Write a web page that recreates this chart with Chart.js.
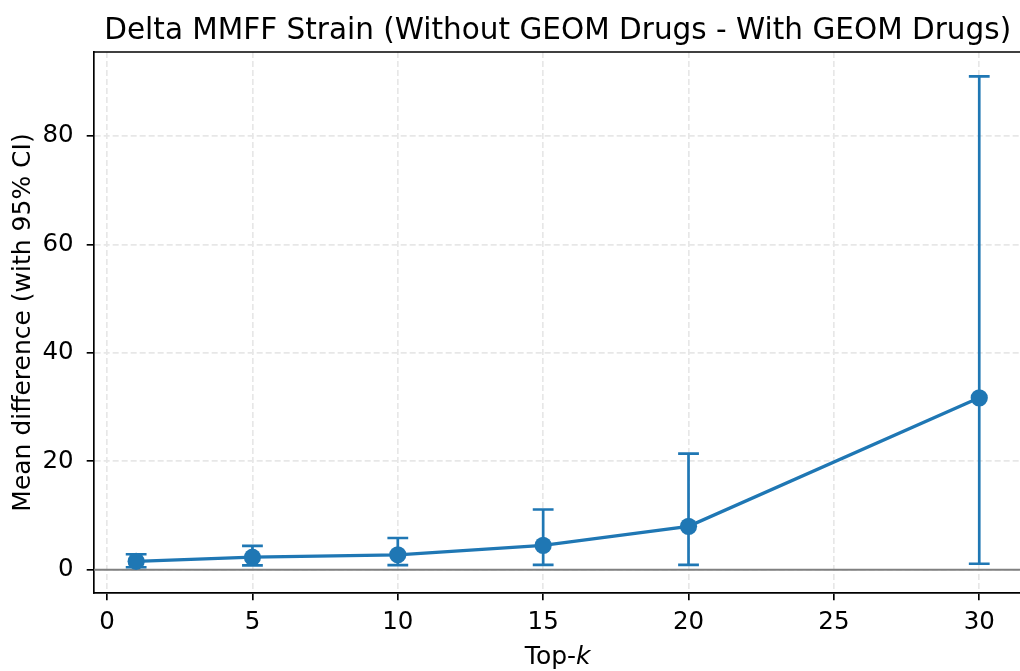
<!DOCTYPE html>
<html>
<head>
<meta charset="utf-8">
<script src="https://cdn.jsdelivr.net/npm/chart.js@4/dist/chart.umd.min.js"></script>
<style>
  html, body { margin:0; padding:0; background:#fff; overflow:hidden; }
  canvas { display:block; }
</style>
</head>
<body>
<canvas id="c" width="1030" height="671" style="width:1030px;height:671px"></canvas>
<script>
// ---- data ----
const topK = [1, 5, 10, 15, 20, 30];
const meanDiff = [1.55, 2.3, 2.75, 4.5, 8.0, 31.7];
const ciLower = [0.45, 0.8, 0.85, 0.9, 0.9, 1.1];
const ciUpper = [2.85, 4.4, 5.85, 11.1, 21.4, 91.0];
const xTicks = [0, 5, 10, 15, 20, 25, 30];
const yTicks = [0, 20, 40, 60, 80];
const titleText = 'Delta MMFF Strain (Without GEOM Drugs - With GEOM Drugs)';
const yLabel = 'Mean difference (with 95% CI)';

const FONT = "'DejaVu Sans', sans-serif";
const BLUE = '#1f77b4';
const TICK_SIZE = 24.5;
const LABEL_SIZE = 25;
const TITLE_SIZE = 29.5;

const extras = {
  id: 'extras',
  beforeDatasetsDraw(chart) {
    const { ctx, chartArea: a, scales: { x, y } } = chart;
    ctx.save();
    ctx.beginPath();
    ctx.rect(a.left, a.top, a.right - a.left, a.bottom - a.top);
    ctx.clip();
    // zero line
    const y0 = y.getPixelForValue(0);
    ctx.strokeStyle = '#808080';
    ctx.lineWidth = 2;
    ctx.beginPath(); ctx.moveTo(a.left, y0); ctx.lineTo(a.right, y0); ctx.stroke();
    // error bars
    ctx.strokeStyle = BLUE;
    ctx.lineWidth = 2.7;
    const cap = 10.4;
    topK.forEach((kv, i) => {
      const px = x.getPixelForValue(kv);
      const pt = y.getPixelForValue(ciUpper[i]);
      const pb = y.getPixelForValue(ciLower[i]);
      ctx.beginPath();
      ctx.moveTo(px, pt); ctx.lineTo(px, pb);
      ctx.moveTo(px - cap, pt); ctx.lineTo(px + cap, pt);
      ctx.moveTo(px - cap, pb); ctx.lineTo(px + cap, pb);
      ctx.stroke();
    });
    ctx.restore();
  },
  afterDraw(chart) {
    const { ctx, chartArea: a } = chart;
    ctx.save();
    // top spine
    ctx.strokeStyle = '#000';
    ctx.lineWidth = 1.67;
    ctx.beginPath(); ctx.moveTo(a.left - 0.8, a.top); ctx.lineTo(a.right, a.top); ctx.stroke();
    // title
    const cx = (a.left + a.right) / 2;
    ctx.fillStyle = '#000';
    ctx.font = `${TITLE_SIZE}px ${FONT}`;
    ctx.textAlign = 'center';
    ctx.textBaseline = 'alphabetic';
    ctx.fillText(titleText, cx, 39);
    // x label "Top-k" with italic k
    const p1 = 'Top-';
    ctx.font = `${LABEL_SIZE}px ${FONT}`;
    const w1 = ctx.measureText(p1).width;
    ctx.font = `italic ${LABEL_SIZE}px ${FONT}`;
    const w2 = ctx.measureText('k').width;
    const start = cx - (w1 + w2) / 2;
    ctx.textAlign = 'left';
    ctx.font = `${LABEL_SIZE}px ${FONT}`;
    ctx.fillText(p1, start, 664);
    ctx.font = `italic ${LABEL_SIZE}px ${FONT}`;
    ctx.fillText('k', start + w1, 664);
    ctx.restore();
  }
};

new Chart(document.getElementById('c'), {
  type: 'scatter',
  data: {
    datasets: [{
      data: topK.map((kv, i) => ({ x: kv, y: meanDiff[i] })),
      showLine: true,
      borderColor: BLUE,
      backgroundColor: BLUE,
      borderWidth: 3.3,
      pointRadius: 8.6,
      pointHoverRadius: 8.6,
      pointBorderWidth: 0,
      pointBackgroundColor: BLUE,
      tension: 0
    }]
  },
  options: {
    responsive: false,
    animation: false,
    events: [],
    layout: { padding: { top: 52, right: 7, left: 0, bottom: 0 } },
    plugins: { legend: { display: false }, tooltip: { enabled: false }, title: { display: false } },
    scales: {
      x: {
        type: 'linear',
        min: -0.45,
        max: 31.45,
        afterBuildTicks: s => { s.ticks = xTicks.map(v => ({ value: v })); },
        afterFit: s => { s.height = 78; },
        grid: { color: '#e7e7e7', lineWidth: 1.67, tickColor: '#000', tickWidth: 1.67, tickLength: 7.3, drawTicks: true },
        border: { display: true, color: '#000', width: 1.67, dash: [6, 3] },
        ticks: { color: '#000', font: { family: FONT, size: TICK_SIZE }, padding: 8, maxRotation: 0, autoSkip: false }
      },
      y: {
        type: 'linear',
        min: -4.3,
        max: 95.5,
        afterBuildTicks: s => { s.ticks = yTicks.map(v => ({ value: v })); },
        afterFit: s => { s.width = 94; },
        grid: { color: '#e7e7e7', lineWidth: 1.67, tickColor: '#000', tickWidth: 1.67, tickLength: 7.3, drawTicks: true },
        border: { display: true, color: '#000', width: 1.67, dash: [6, 3] },
        ticks: { color: '#000', font: { family: FONT, size: TICK_SIZE }, padding: 13, autoSkip: false },
        title: { display: true, text: yLabel, color: '#000', font: { family: FONT, size: LABEL_SIZE }, padding: { top: 8, bottom: 0 } }
      }
    }
  },
  plugins: [extras]
});
</script>
</body>
</html>
